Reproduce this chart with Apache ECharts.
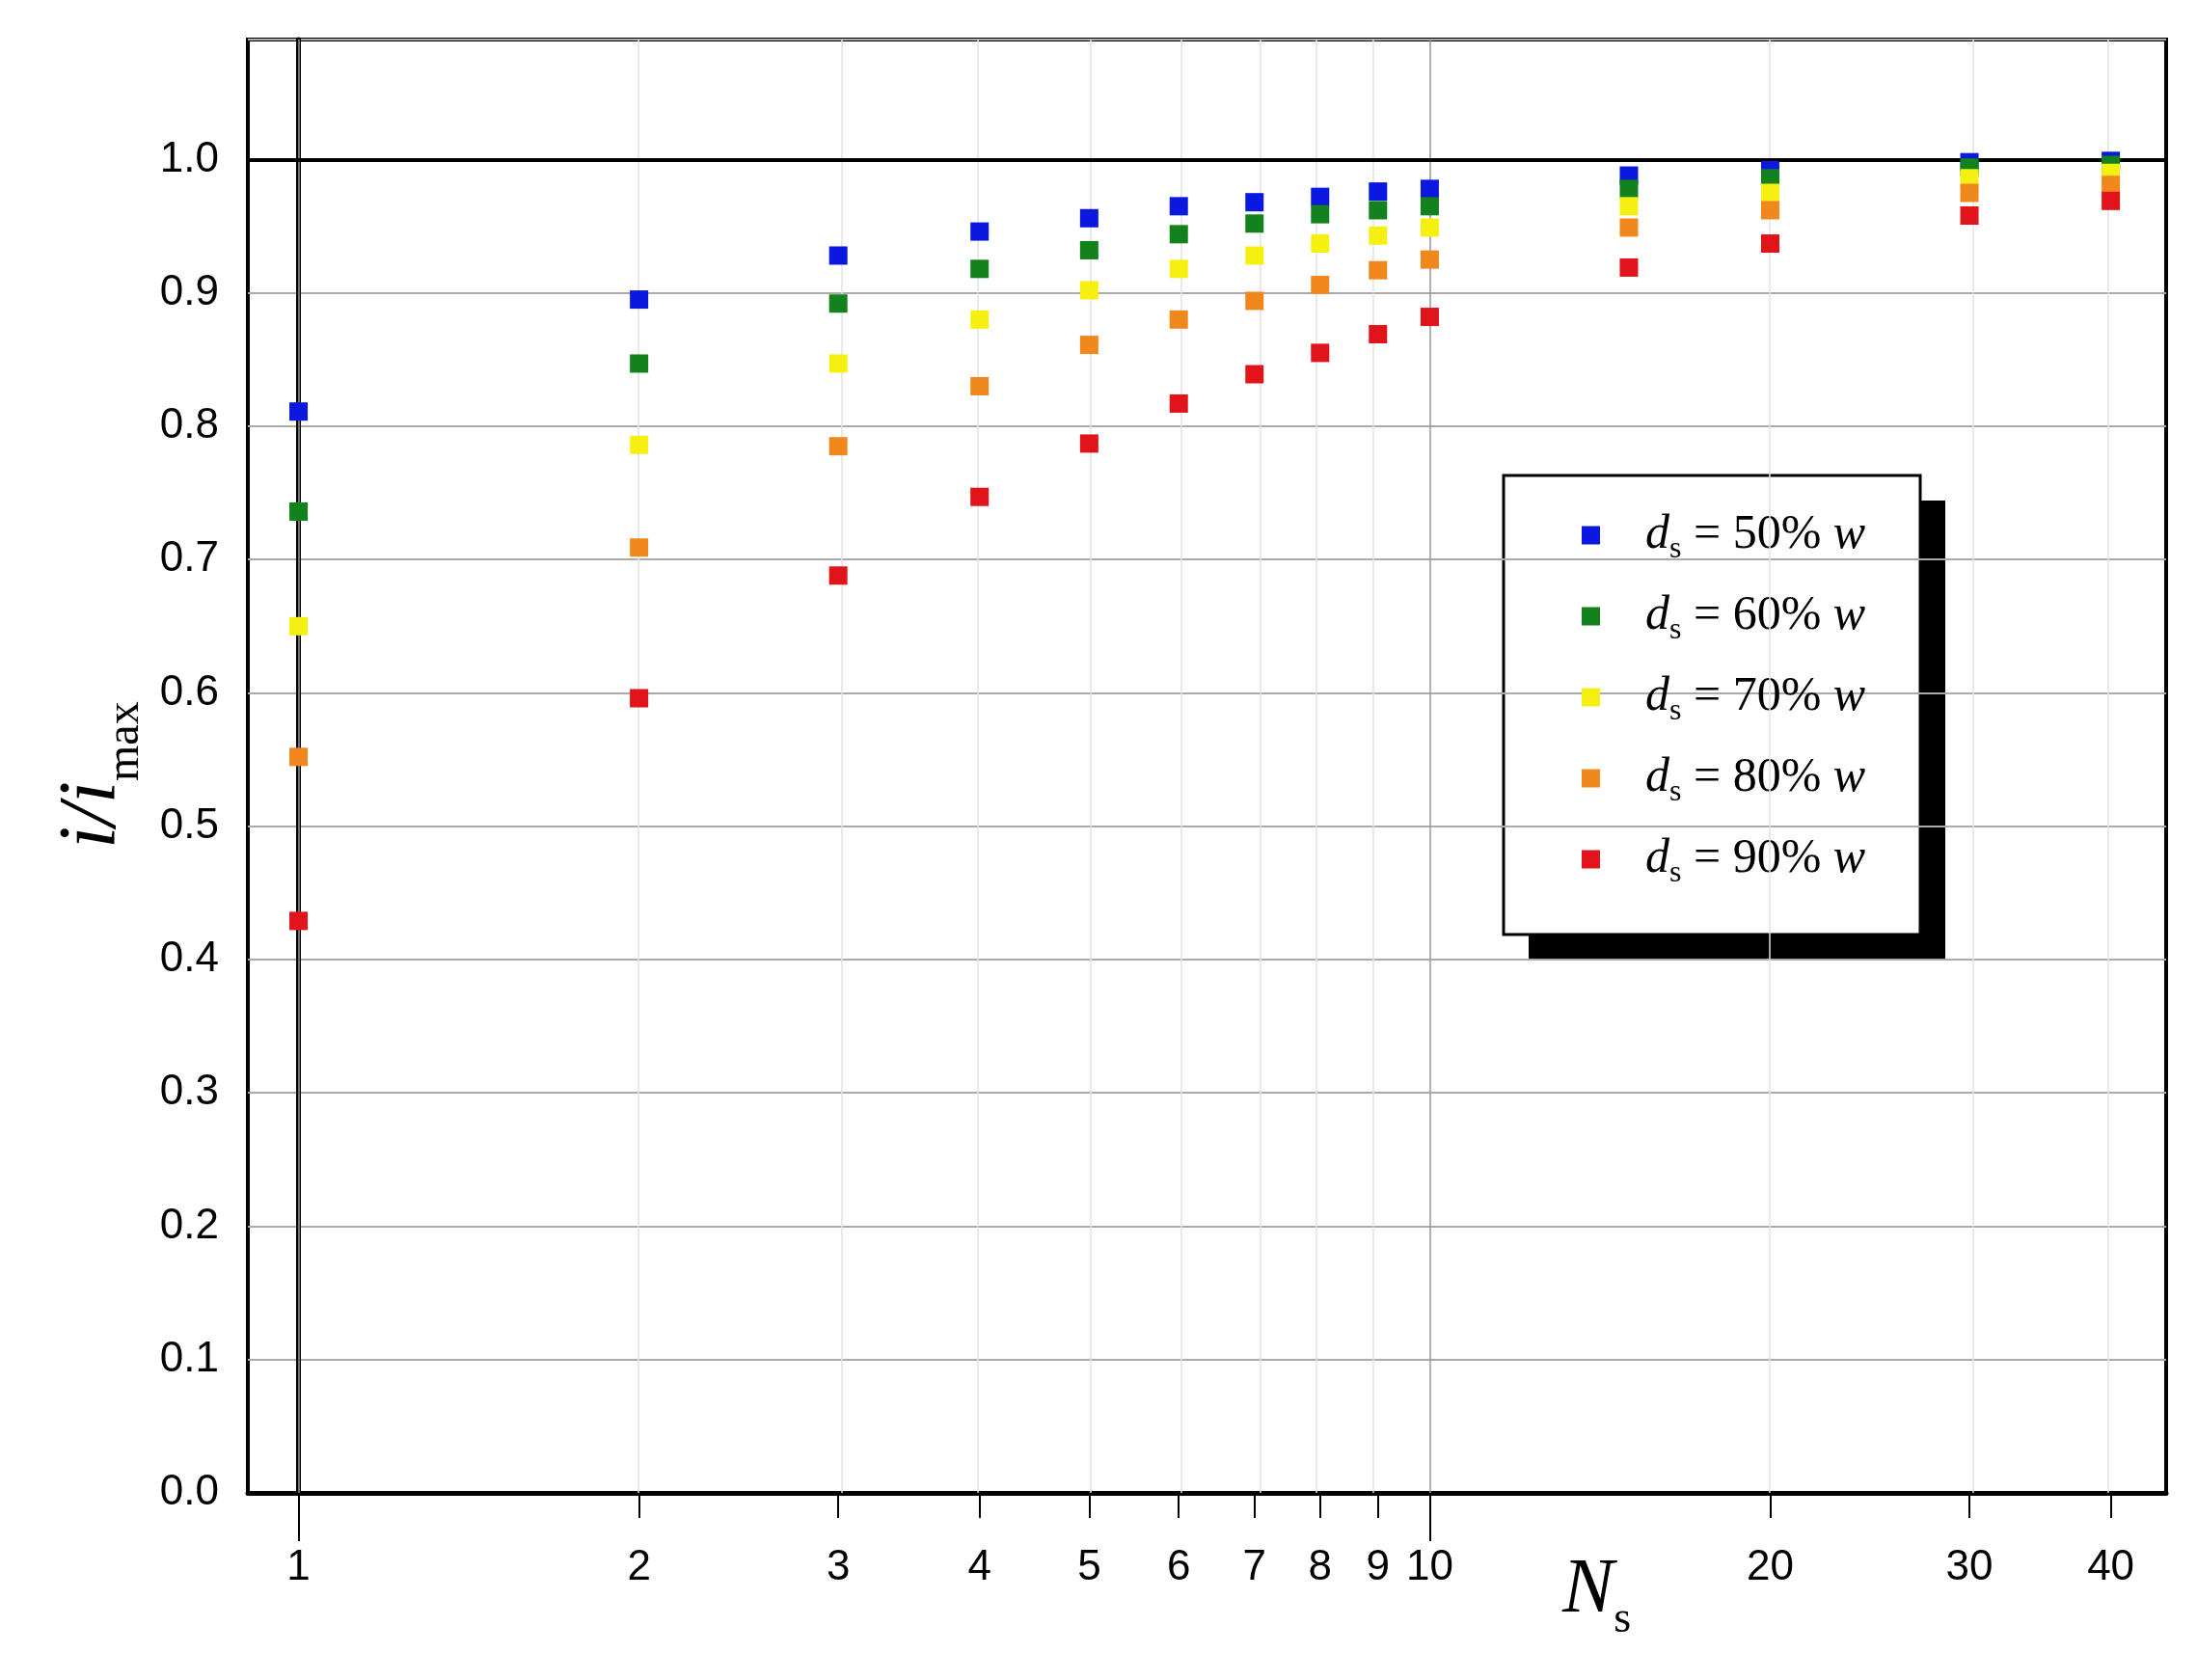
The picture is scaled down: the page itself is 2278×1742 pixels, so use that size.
<!DOCTYPE html>
<html><head><meta charset="utf-8">
<script src="https://cdn.jsdelivr.net/npm/echarts@6/dist/echarts.min.js"></script>
<style>html,body{margin:0;padding:0;background:#fff}#c{width:2278px;height:1742px}</style>
</head><body><div id="c"></div>
<script>
const Ns = [1,2,3,4,5,6,7,8,9,10,15,20,30,40];
const tickLabels = [1,2,3,4,5,6,7,8,9,10,20,30,40];
const seriesNames = ['50%','60%','70%','80%','90%'];
const colors = ['#0a18e0','#13821c','#f5f010','#f0881e','#e0141a'];
const d50 = [0.811,0.895,0.928,0.946,0.956,0.965,0.968,0.972,0.976,0.978,0.988,0.992,0.998,0.999];
const d60 = [0.736,0.847,0.892,0.918,0.932,0.944,0.952,0.959,0.962,0.965,0.978,0.986,0.994,0.996];
const d70 = [0.650,0.786,0.847,0.880,0.902,0.918,0.928,0.937,0.943,0.949,0.965,0.975,0.986,0.990];
const d80 = [0.552,0.709,0.785,0.830,0.861,0.880,0.894,0.906,0.917,0.925,0.949,0.962,0.975,0.981];
const d90 = [0.429,0.596,0.688,0.747,0.787,0.817,0.839,0.855,0.869,0.882,0.919,0.937,0.958,0.969];
const allData = [d50,d60,d70,d80,d90];

const lg = v => Math.log10(v);
const xmin = -0.0448, xmax = 1.651;
const font = "'Liberation Sans Narrow','Liberation Sans',Arial,sans-serif";
const serif = "'Liberation Serif','DejaVu Serif',serif";

const series = allData.map((d,i)=>({
  name: seriesNames[i], type:'scatter', symbol:'rect', symbolSize:19,
  itemStyle:{color:colors[i], opacity:1}, z:5,
  data: Ns.map((n,j)=>[lg(n), d[j]])
}));
series.push({
  type:'scatter', data:[], silent:true, z:1,
  markLine:{symbol:'none', silent:true, label:{show:false}, animation:false,
    data: tickLabels.map(t=>({xAxis:lg(t), lineStyle:{color:(t===1||t===10)?'#999':'#e2e2e2', width:(t===1||t===10)?1.5:1.5, type:'solid'}}))
      .concat([{yAxis:1, lineStyle:{color:'#000', width:4, type:'solid'}}])
  }
});

const chart = echarts.init(document.getElementById('c'));
chart.setOption({
  animation:false,
  grid:{left:257, right:32, top:41, bottom:194, show:true, borderColor:'#000', borderWidth:4, containLabel:false},
  xAxis:[{
    type:'value', min:xmin, max:xmax,
    axisLine:{show:true, lineStyle:{color:'#000', width:5}},
    axisTick:{show:true, customValues: tickLabels.map(lg), length:26, lineStyle:{color:'#000', width:2}},
    axisLabel:{show:true, customValues: tickLabels.map(lg), margin:56, fontSize:44, fontFamily:font, color:'#000',
      formatter: v => String(Math.round(Math.pow(10,v)))},
    splitLine:{show:false}
  },{
    type:'value', min:xmin, max:xmax, position:'bottom',
    axisLine:{show:false},
    axisTick:{show:true, customValues:[0,1], length:50, lineStyle:{color:'#000', width:2}},
    axisLabel:{show:false}, splitLine:{show:false}
  }],
  yAxis:{
    type:'value', min:0, max:1.09, interval:0.1,
    axisLine:{show:true, lineStyle:{color:'#000', width:5}},
    axisTick:{show:false},
    axisLabel:{fontSize:44, fontFamily:font, color:'#000', margin:30,
      formatter: v => (v>1.05 ? '' : v.toFixed(1)),
      customValues:[0,0.1,0.2,0.3,0.4,0.5,0.6,0.7,0.8,0.9,1.0]},
    splitLine:{show:true, lineStyle:{color:'#aaa', width:2}}
  },
  legend:{
    orient:'vertical', left:1640, top:530, itemGap:28, itemWidth:19, itemHeight:19,
    icon:'rect', data:seriesNames,
    formatter: n => '{d|d}{s|s}{t| = ' + n + ' }{w|w}',
    textStyle:{ rich:{
      d:{fontFamily:serif, fontStyle:'italic', fontSize:50, color:'#000', padding:[0,0,0,42]},
      s:{fontFamily:serif, fontSize:32, color:'#000', verticalAlign:'bottom', padding:[30,0,0,0]},
      t:{fontFamily:serif, fontSize:50, color:'#000'},
      w:{fontFamily:serif, fontStyle:'italic', fontSize:50, color:'#000'}
    }},
    padding:0
  },
  graphic:[
    {type:'rect', shape:{x:1585, y:519, width:432, height:476}, style:{fill:'#000'}, z:0},
    {type:'rect', shape:{x:1559, y:493, width:432, height:476}, style:{fill:'#fff', stroke:'#000', lineWidth:3}, z:0},
    {type:'text', left:1620, top:1610, z:10, style:{
      text:'{n|N}{s|s}', rich:{
        n:{fontFamily:serif, fontStyle:'italic', fontSize:80, color:'#000'},
        s:{fontFamily:serif, fontSize:46, color:'#000', verticalAlign:'bottom', padding:[60,0,0,0]}
      }}},
    {type:'text', x:40, y:880, rotation:Math.PI/2, z:10, style:{
      text:'{i|i/i}{m|max}', rich:{
        i:{fontFamily:serif, fontStyle:'italic', fontSize:84, color:'#000'},
        m:{fontFamily:serif, fontSize:48, color:'#000', verticalAlign:'bottom', padding:[66,0,0,0]}
      }}}
  ],
  series: series
});
</script></body></html>
